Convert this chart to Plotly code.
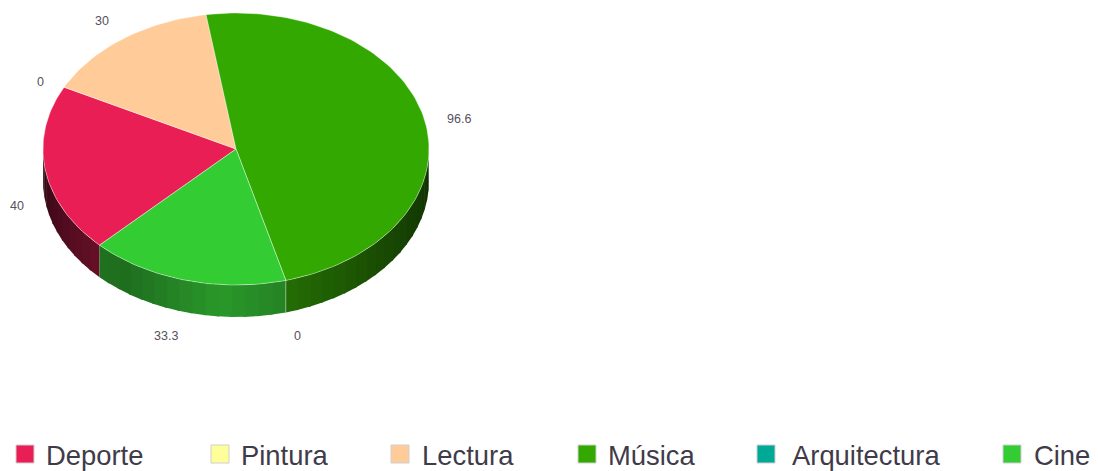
import math
import plotly.graph_objects as go

# Chart data
categories = ["Deporte", "Pintura", "Lectura", "Música", "Arquitectura", "Cine"]
values = [40, 0, 30, 96.6, 0, 33.3]
value_labels = ["40", "0", "30", "96.6", "0", "33.3"]

# Slice colours
colors = ["#E91E54", "#FFFF99", "#FFCC99", "#33A800", "#00A896", "#33CC33"]

# Ellipse geometry of the tilted disc, in page pixels
CX, CY = 236, 149
RX, RY = 193, 136
DEPTH = 32
START_ANGLE = 225.0
LABEL_RX, LABEL_RY = 213, 157

# Small nudges for the value labels: dx, dy per slice
label_nudge = [(0, 0), (0, 4), (0, -1), (1, 3), (1, 3), (-1, 3)]

# Legend row layout
LEGEND_Y = 455
legend_swatch_x = [25, 220, 400, 587, 766, 1012]
legend_text_x = [44, 239, 420, 606, 790, 1032]


def point(deg, dy=0.0, rx=RX, ry=RY):
    a = math.radians(deg)
    return CX + rx * math.sin(a), CY - ry * math.cos(a) + dy


def arc(a0, a1, dy=0.0):
    n = max(2, int(abs(a1 - a0) / 1.5) + 1)
    return [point(a0 + (a1 - a0) * i / (n - 1), dy) for i in range(n)]


def rgb(color):
    return tuple(int(color[i:i + 2], 16) for i in (1, 3, 5))


def wall_shade(deg):
    """Brightness of the rim at a clockwise angle from the top of the disc."""
    stops = [(90, 0.26), (130, 0.42), (165, 0.62), (185, 0.72), (205, 0.58),
             (215, 0.52), (225, 0.54), (226, 0.42), (250, 0.30), (270, 0.18)]
    for (a0, s0), (a1, s1) in zip(stops, stops[1:]):
        if a0 <= deg <= a1:
            return s0 + (s1 - s0) * (deg - a0) / (a1 - a0)
    return stops[-1][1]


# Angular span of each slice, clockwise from the top
total = sum(values)
spans = []
angle = START_ANGLE
for v in values:
    sweep = v / total * 360
    spans.append((angle, angle + sweep))
    angle += sweep

fig = go.Figure()


def polygon(pts, fill):
    fig.add_trace(go.Scatter(
        x=[p[0] for p in pts] + [pts[0][0]],
        y=[p[1] for p in pts] + [pts[0][1]],
        mode="lines", fill="toself", fillcolor=fill,
        line=dict(width=0),
        hoverinfo="skip", showlegend=False,
    ))


# Rim of the disc: the front half only, cut into short shaded strips
STRIP = 4.0
OVERLAP = 0.7
for (a0, a1), color in zip(spans, colors):
    if a0 == a1:
        continue
    for offset in (0, 360, -360):
        lo = max(a0 + offset, 90)
        hi = min(a1 + offset, 270)
        if lo >= hi:
            continue
        base = rgb(color)
        n = max(1, int(math.ceil((hi - lo) / STRIP)))
        for i in range(n):
            s0 = lo + (hi - lo) * i / n
            s1 = lo + (hi - lo) * (i + 1) / n
            k = wall_shade((s0 + s1) / 2)
            shade = "rgb(%d,%d,%d)" % tuple(min(255, int(c * k + 8 * k)) for c in base)
            # Each strip runs slightly under the next so no gaps show between them
            s1_cover = min(hi, s1 + OVERLAP)
            polygon(arc(s0, s1_cover) + arc(s1_cover, s0, DEPTH), shade)

# Pale seam on the rim between Música and Cine
for a0, a1 in spans:
    if a0 != a1 and 90 < (a0 % 360) < 200:
        top = point(a0)
        bottom = point(a0, DEPTH)
        fig.add_trace(go.Scatter(
            x=[top[0], bottom[0]], y=[top[1], bottom[1]], mode="lines",
            line=dict(color="rgba(255,255,255,0.4)", width=1),
            hoverinfo="skip", showlegend=False,
        ))

# Top face of each slice
for (a0, a1), color, name, value in zip(spans, colors, categories, values):
    if a0 == a1:
        continue
    pts = [(CX, CY)] + arc(a0, a1)
    fig.add_trace(go.Scatter(
        x=[p[0] for p in pts] + [CX],
        y=[p[1] for p in pts] + [CY],
        mode="lines", fill="toself", fillcolor=color,
        line=dict(color="rgba(255,255,255,0.5)", width=0.8),
        name=name, text=f"{name}: {value}", hoverinfo="text", showlegend=False,
    ))

# Value labels placed outside the disc, by the middle of each slice
for (a0, a1), label, (nx, ny) in zip(spans, value_labels, label_nudge):
    mid = ((a0 + a1) / 2) % 360
    drop = DEPTH if 90 < mid < 270 else 0
    x, y = point(mid, drop, LABEL_RX, LABEL_RY)
    fig.add_annotation(
        x=x + nx, y=y + ny, text=label, showarrow=False,
        xanchor="left" if mid < 180 else "right", yanchor="middle",
        font=dict(family="Liberation Sans, Arial, sans-serif", size=12.5, color="#55505c"),
    )

# Legend row
fig.add_trace(go.Scatter(
    x=legend_swatch_x, y=[LEGEND_Y - 1] * len(categories), mode="markers",
    marker=dict(symbol="square", size=18, color=colors, line=dict(color="#cfcfcf", width=1)),
    hoverinfo="skip", showlegend=False,
))
for x, name in zip(legend_text_x, categories):
    fig.add_annotation(
        x=x, y=LEGEND_Y, text=name, showarrow=False,
        xanchor="left", yanchor="middle",
        font=dict(family="Liberation Sans, Arial, sans-serif", size=27.4, color="#3f3b4a"),
    )

fig.update_layout(
    width=1098, height=471,
    margin=dict(l=0, r=0, t=0, b=0),
    paper_bgcolor="white", plot_bgcolor="white",
    xaxis=dict(range=[0, 1098], visible=False, fixedrange=True),
    yaxis=dict(range=[471, 0], visible=False, fixedrange=True),
    showlegend=False,
)

fig.write_html("out.html", config=dict(displayModeBar=False))
